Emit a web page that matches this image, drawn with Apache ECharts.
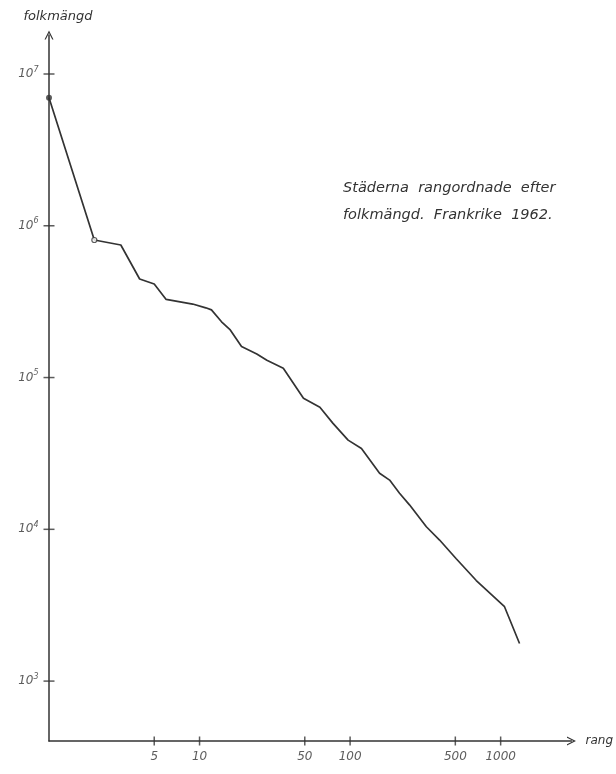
<!DOCTYPE html>
<html>
<head>
<meta charset="utf-8">
<script src="https://cdn.jsdelivr.net/npm/echarts@6/dist/echarts.min.js"></script>
<style>
  html, body { margin: 0; padding: 0; background: #fff; }
  #chart { width: 616px; height: 774px; }
</style>
</head>
<body>
<div id="chart"></div>
<script>
// rang (rank) och folkmängd, avläst ur originalfiguren
var ranks = [1, 2, 3, 4, 5, 6, 9, 11, 12, 14, 16, 19, 24, 28, 36, 49, 63, 77, 97, 119, 157, 183, 213, 248, 321, 393, 507, 689, 1061, 1335];
var pops = [6980000, 806000, 747000, 446000, 413000, 327000, 305000, 288000, 279000, 233000, 206000, 160000, 143000, 130000, 115000, 73000, 63700, 49900, 38700, 34100, 23400, 21100, 17300, 14500, 10400, 8500, 6400, 4600, 3090, 1770];

var xTicks = [5, 10, 50, 100, 500, 1000];
var xTickLabels = ['5', '10', '50', '100', '500', '1000'];
var yTicks = [1e3, 1e4, 1e5, 1e6, 1e7];
var yTickExp = ['3', '4', '5', '6', '7'];

var X_MIN = 1, X_MAX = 2955, Y_MIN = 403, Y_MAX = 18070000;
var ink = '#333';
var hand = "'DejaVu Sans', sans-serif";
var chevron = 'path://M0,10 L5,0 L10,10 L8.6,10 L5,2.8 L1.4,10 Z';

var lineData = ranks.map(function (r, i) { return [r, pops[i]]; });

var chart = echarts.init(document.getElementById('chart'), null, {renderer: 'canvas'});

chart.setOption({
    backgroundColor: '#fff',
    animation: false,
    title: {
        text: 'Städerna  rangordnade  efter\nfolkmängd.  Frankrike  1962.',
        left: 338,
        top: 170,
        textStyle: {
            fontFamily: hand,
            fontSize: 14.5,
            fontWeight: 'normal',
            fontStyle: 'italic',
            color: ink,
            lineHeight: 27
        }
    },
    grid: {left: 49, right: 44, top: 35, bottom: 33, containLabel: false},
    xAxis: {
        type: 'log',
        logBase: 10,
        min: X_MIN,
        max: X_MAX,
        name: 'rang',
        nameLocation: 'end',
        nameGap: 14,
        nameTextStyle: {fontFamily: hand, fontStyle: 'italic', fontSize: 12, color: ink, padding: [8, 0, 0, 0]},
        axisLine: {lineStyle: {color: ink, width: 1.5}, symbol: ['none', chevron], symbolSize: [11, 9]},
        axisTick: {show: false},
        axisLabel: {show: false},
        splitLine: {show: false}
    },
    yAxis: {
        type: 'log',
        logBase: 10,
        min: Y_MIN,
        max: Y_MAX,
        name: 'folkmängd',
        nameLocation: 'end',
        nameGap: 12,
        nameTextStyle: {fontFamily: hand, fontStyle: 'italic', fontSize: 13, color: ink, padding: [0, 0, 0, 18]},
        axisLine: {lineStyle: {color: ink, width: 1.5}, symbol: ['none', chevron], symbolSize: [11, 9]},
        axisTick: {show: false},
        axisLabel: {show: false},
        splitLine: {show: false}
    },
    series: [
        {
            name: 'folkmängd',
            type: 'line',
            data: lineData,
            symbol: 'none',
            lineStyle: {color: ink, width: 1.7},
            z: 3
        },
        {
            // markerade punkter: Paris (fylld) och tvåan (öppen)
            type: 'scatter',
            clip: false,
            data: [
                {value: [ranks[0], pops[0]], symbolSize: 6, itemStyle: {color: ink}},
                {value: [ranks[1], pops[1]], symbolSize: 5, itemStyle: {color: '#fff', borderColor: ink, borderWidth: 1.2}}
            ],
            z: 4
        },
        {
            // x-axelns streck och etiketter
            type: 'scatter',
            clip: false,
            symbol: 'rect',
            symbolSize: [1.5, 9],
            itemStyle: {color: ink},
            data: xTicks.map(function (v) { return [v, Y_MIN]; }),
            label: {
                show: true,
                position: 'bottom',
                distance: 5,
                fontFamily: hand,
                fontStyle: 'italic',
                fontSize: 12,
                color: ink,
                formatter: function (p) { return xTickLabels[p.dataIndex]; }
            },
            z: 5
        },
        {
            // y-axelns streck och etiketter
            type: 'scatter',
            clip: false,
            symbol: 'rect',
            symbolSize: [11, 1.5],
            itemStyle: {color: ink},
            data: yTicks.map(function (v) { return [X_MIN, v]; }),
            label: {
                show: true,
                position: 'left',
                distance: 5,
                color: ink,
                formatter: function (p) { return '{b|10}{s|' + yTickExp[p.dataIndex] + '}'; },
                rich: {
                    b: {fontFamily: hand, fontStyle: 'italic', fontSize: 12, color: ink},
                    s: {fontFamily: hand, fontStyle: 'italic', fontSize: 8, color: ink, padding: [0, 0, 9, 0]}
                }
            },
            z: 5
        }
    ]
});
</script>
</body>
</html>
